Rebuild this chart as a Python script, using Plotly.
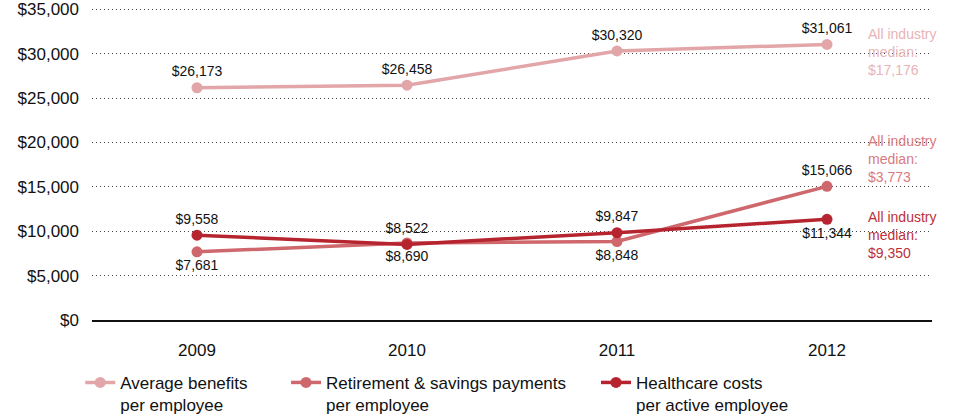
import plotly.graph_objects as go

years = ["2009", "2010", "2011", "2012"]
avg_benefits = [26173, 26458, 30320, 31061]
retirement = [7681, 8690, 8848, 15066]
healthcare = [9558, 8522, 9847, 11344]

series_names = ["Average benefits<br>per employee",
                "Retirement & savings payments<br>per employee",
                "Healthcare costs<br>per active employee"]
medians = ["$17,176", "$3,773", "$9,350"]
y_ticks = [0, 5000, 10000, 15000, 20000, 25000, 30000, 35000]

colors = ["#e2a6a9", "#cf686d", "#b6252f"]
median_colors = ["#e9b3b6", "#d97a7e", "#bd2f38"]

FONT = "Liberation Sans, Arial, Helvetica, sans-serif"

def fmt(v):
    return "${:,}".format(v)

fig = go.Figure()
data = [avg_benefits, retirement, healthcare]
positions = [
    ["top center"] * 4,
    ["bottom center", "bottom center", "bottom center", "top center"],
    ["top center", "top center", "top center", "bottom center"],
]
legends = ["legend", "legend2", "legend3"]
for i in range(3):
    fig.add_trace(go.Scatter(
        x=years, y=data[i], mode="lines+markers+text",
        name=series_names[i],
        line=dict(color=colors[i], width=3.5),
        marker=dict(color=colors[i], size=11),
        text=[fmt(v) for v in data[i]],
        textposition=positions[i],
        textfont=dict(family=FONT, size=14, color="#111111"),
        legend=legends[i],
        cliponaxis=False,
        hoverinfo="skip",
    ))

# median annotations, placed beside the last data point of each series
median_y = [avg_benefits[-1], retirement[-1], healthcare[-1]]
median_yshift = [-8, 27, -16]
for i in range(3):
    fig.add_annotation(
        x=0.921, y=median_y[i], xref="paper", yref="y",
        text="All industry<br>median:<br>" + medians[i],
        showarrow=False, xanchor="left", yanchor="middle",
        yshift=median_yshift[i], align="left",
        font=dict(family=FONT, size=14, color=median_colors[i]),
    )

legend_common = dict(
    orientation="h", yanchor="top", xanchor="left", valign="top",
    font=dict(family=FONT, size=17, color="#111111"),
    bgcolor="rgba(0,0,0,0)", itemclick=False, itemdoubleclick=False,
)
LEG_Y = -0.1425
fig.update_layout(
    legend=dict(x=-0.014, y=LEG_Y, **legend_common),
    legend2=dict(x=0.231, y=LEG_Y, **legend_common),
    legend3=dict(x=0.6, y=LEG_Y, **legend_common),
)

fig.update_xaxes(
    type="category", range=[-0.5, 3.5],
    showgrid=False, showline=True, linecolor="#111111", linewidth=2,
    ticks="", ticklabelstandoff=14,
    tickfont=dict(family=FONT, size=17, color="#111111"),
)
fig.update_yaxes(
    range=[0, 35500], tickvals=y_ticks,
    ticktext=[fmt(v) for v in y_ticks],
    showgrid=True, gridcolor="#444444", gridwidth=1, griddash="1px,3px",
    zeroline=False, showline=False, ticks="", ticklabelstandoff=12,
    tickfont=dict(family=FONT, size=17, color="#111111"),
)

fig.update_layout(
    width=953, height=419,
    margin=dict(l=92, r=21, t=5, b=99, autoexpand=False),
    paper_bgcolor="white", plot_bgcolor="white",
    showlegend=True,
)

fig.write_html("out.html")
